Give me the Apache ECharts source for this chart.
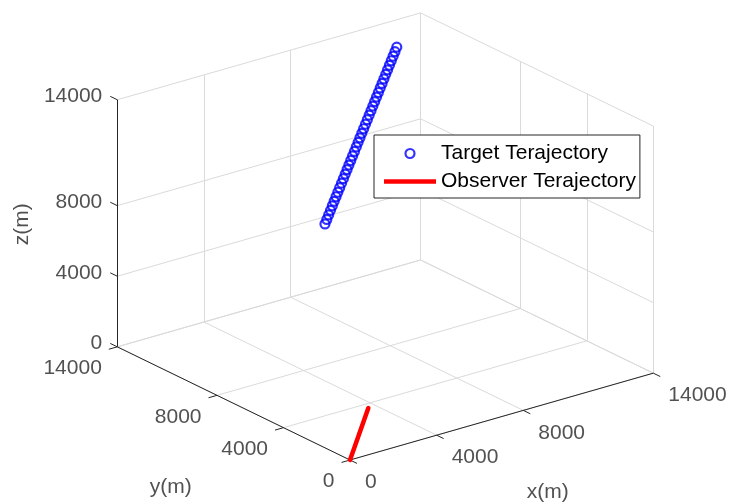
<!DOCTYPE html>
<html>
<head>
<meta charset="utf-8">
<script src="https://cdn.jsdelivr.net/npm/echarts@6/dist/echarts.min.js"></script>
<style>
html,body{margin:0;padding:0;background:#fff;}
#main{width:730px;height:504px;}
</style>
</head>
<body>
<div id="main"></div>
<script>
// 轴范围和刻度
var LIM = 14000;
var ticks = [0, 4000, 8000, 14000];
var tickLabels = ['0', '4000', '8000', '14000'];

// 目标轨迹 (m)
var targetX = [8820, 8905, 8990, 9075, 9160, 9245, 9330, 9415, 9500, 9585,
               9670, 9755, 9840, 9925, 10010, 10095, 10180, 10265, 10350, 10435,
               10520, 10605, 10690, 10775, 10860, 10945, 11030, 11115, 11200, 11285,
               11370, 11455, 11540, 11625, 11710, 11795, 11880, 11965, 12050, 12135];
var targetY = [13000, 13000, 13000, 13000, 13000, 13000, 13000, 13000, 13000, 13000,
               13000, 13000, 13000, 13000, 13000, 13000, 13000, 13000, 13000, 13000,
               13000, 13000, 13000, 13000, 13000, 13000, 13000, 13000, 13000, 13000,
               13000, 13000, 13000, 13000, 13000, 13000, 13000, 13000, 13000, 13000];
var targetZ = [4320, 4547, 4774, 5001, 5228, 5455, 5682, 5909, 6136, 6363,
               6590, 6817, 7044, 7271, 7498, 7725, 7952, 8179, 8406, 8633,
               8860, 9087, 9314, 9541, 9768, 9995, 10222, 10449, 10676, 10903,
               11130, 11357, 11584, 11811, 12038, 12265, 12492, 12719, 12946, 13173];

// 观测者轨迹 (m)
var observerX = [0, 910, 1820, 2730, 3640];
var observerY = [0, 910, 1820, 2730, 3640];
var observerZ = [0, 0, 0, 0, 0];

var FONT = "'Liberation Sans', Arial, Helvetica, sans-serif";
var TXT = '#262626';
var FS = 21;

// 视角 view(-37.5, 30)
var AZ = -37.5 * Math.PI / 180, EL = 30 * Math.PI / 180;
function proj(x, y, z) {
    var u = x / LIM, v = y / LIM, w = z / LIM;
    return [
        u * Math.cos(AZ) + v * Math.sin(AZ),
        -u * Math.sin(AZ) * Math.sin(EL) + v * Math.cos(AZ) * Math.sin(EL) + w * Math.cos(EL)
    ];
}
function seg(a, b) {
    return {coords: [proj(a[0], a[1], a[2]), proj(b[0], b[1], b[2])]};
}

//网格线 (背面两堵墙 + 地面)
var gridSegs = [];
ticks.forEach(function (t) {
    gridSegs.push(seg([t, LIM, 0], [t, LIM, LIM]));     // 左墙竖线
    gridSegs.push(seg([0, LIM, t], [LIM, LIM, t]));     // 左墙横线
    gridSegs.push(seg([LIM, t, 0], [LIM, t, LIM]));     // 右墙竖线
    gridSegs.push(seg([LIM, 0, t], [LIM, LIM, t]));     // 右墙横线
    gridSegs.push(seg([t, 0, 0], [t, LIM, 0]));         // 地面
    gridSegs.push(seg([0, t, 0], [LIM, t, 0]));
});

//坐标轴和刻度
var TL = 420;
var axisSegs = [
    seg([0, 0, 0], [LIM, 0, 0]),
    seg([0, 0, 0], [0, LIM, 0]),
    seg([0, LIM, 0], [0, LIM, LIM])
];
var xLab = [], yLab = [], zLab = [];
ticks.forEach(function (t, i) {
    axisSegs.push(seg([t, 0, 0], [t, -TL, 0]));
    axisSegs.push(seg([0, t, 0], [-TL * 0.93, t, 0]));
    axisSegs.push(seg([0, LIM, t], [0, LIM + TL, t]));
    xLab.push({value: proj(t, -TL, 0), name: tickLabels[i]});
    yLab.push({value: proj(-TL * 0.93, t, 0), name: tickLabels[i]});
    zLab.push({value: proj(0, LIM + TL, t), name: tickLabels[i]});
});

var targetData = targetX.map(function (x, i) { return proj(x, targetY[i], targetZ[i]); });
var observerData = observerX.map(function (x, i) { return proj(x, observerY[i], observerZ[i]); });

function labelSeries(data, align, offset, extra) {
    var label = {
        show: true, formatter: '{b}', position: 'inside', align: align, verticalAlign: 'middle',
        offset: offset, fontSize: FS, color: TXT, fontFamily: FONT
    };
    if (extra) { for (var k in extra) label[k] = extra[k]; }
    return {type: 'scatter', data: data, symbolSize: 0, silent: true, z: 5, label: label};
}

var myChart = echarts.init(document.getElementById('main'));
var option = {
    animation: false,
    backgroundColor: '#fff',
    grid: {left: 0, right: 0, top: 0, bottom: 0},
    xAxis: {type: 'value', min: -350 / 382.3, max: 380 / 382.3, show: false},
    yAxis: {type: 'value', min: -44 / 285.3, max: 460 / 285.3, show: false},
    legend: {
        data: [
            {name: 'Target Terajectory', icon: 'circle',
             itemStyle: {color: 'rgba(0,0,0,0)', borderColor: '#0000ff', borderWidth: 2.2}},
            {name: 'Observer Terajectory', icon: 'path://M0,0H52V4.5H0Z',
             itemStyle: {color: '#ff0000'}}
        ],
        orient: 'vertical', left: 374, top: 135,
        itemWidth: 52, itemHeight: 9, itemGap: 7,
        padding: [8, 4, 6, 10],
        backgroundColor: '#fff', borderColor: '#262626', borderWidth: 1,
        selectedMode: false,
        textStyle: {fontSize: FS, lineHeight: 20, color: '#000', fontFamily: FONT}
    },
    series: [
        {type: 'lines', coordinateSystem: 'cartesian2d', data: gridSegs, silent: true, z: 1,
         lineStyle: {color: '#dadada', width: 1, opacity: 1}},
        {type: 'lines', coordinateSystem: 'cartesian2d', data: axisSegs, silent: true, z: 2,
         lineStyle: {color: '#262626', width: 1, opacity: 1}},
        labelSeries(xLab, 'left', [8, 19]),
        labelSeries(yLab, 'right', [-7, 19]),
        labelSeries(zLab, 'right', [-8, 0]),
        labelSeries([{value: proj(LIM / 2, 0, 0), name: 'x(m)'}], 'center', [46, 76]),
        labelSeries([{value: proj(0, LIM / 2, 0), name: 'y(m)'}], 'center', [-63, 84]),
        labelSeries([{value: proj(0, LIM, LIM / 2), name: 'z(m)'}], 'center', [-1, -95], {rotate: 90}),
        {
            name: 'Target Terajectory', type: 'scatter', data: targetData, z: 3,
            symbol: 'circle', symbolSize: 9,
            itemStyle: {color: 'rgba(0,0,0,0)', borderColor: '#0000ff', borderWidth: 2.2}
        },
        {
            name: 'Observer Terajectory', type: 'line', data: observerData, z: 3,
            showSymbol: false, symbol: 'none',
            lineStyle: {color: '#ff0000', width: 4.5, cap: 'round'}
        }
    ]
};
myChart.setOption(option);
</script>
</body>
</html>
